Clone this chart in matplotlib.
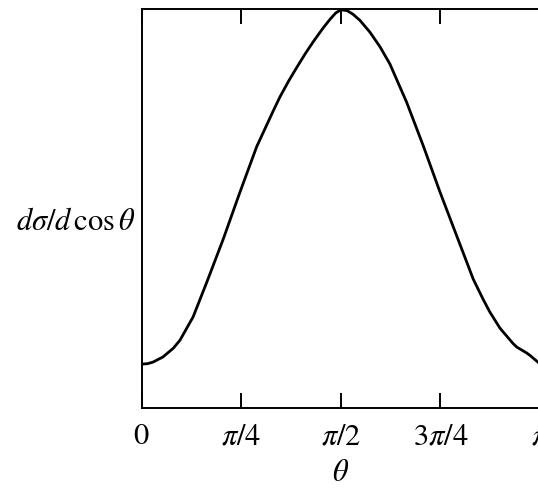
import numpy as np
import matplotlib
matplotlib.use("Agg")
import matplotlib.pyplot as plt

plt.rcParams['mathtext.fontset'] = 'stix'
plt.rcParams['font.family'] = ['Liberation Serif', 'DejaVu Serif']

# Curve (theta in radians, normalised dσ/dcosθ)
theta = [0.000, 0.045, 0.089, 0.168, 0.250, 0.302, 0.405, 0.513, 0.644,
         0.775, 0.907, 1.038, 1.091, 1.160, 1.222, 1.290, 1.351, 1.430,
         1.485, 1.530, 1.571, 1.620, 1.666, 1.720, 1.800, 1.880, 1.958,
         2.090, 2.221, 2.353, 2.484, 2.615, 2.692, 2.747, 2.826, 2.928,
         2.957, 3.036, 3.062, 3.125, 3.142]
dsigma = [0.110, 0.111, 0.115, 0.128, 0.150, 0.170, 0.228, 0.315, 0.424,
          0.541, 0.655, 0.745, 0.780, 0.820, 0.853, 0.888, 0.917, 0.952,
          0.974, 0.990, 0.998, 0.996, 0.987, 0.972, 0.942, 0.905, 0.862,
          0.766, 0.657, 0.541, 0.432, 0.323, 0.273, 0.240, 0.200, 0.162,
          0.153, 0.138, 0.132, 0.115, 0.110]

tick_pos = [0, np.pi / 4, np.pi / 2, 3 * np.pi / 4, np.pi]
tick_labels = [r'$0$', r'$\pi/4$', r'$\pi/2$', r'$3\pi/4$', r'$\pi$']

W, H = 538, 489
fig = plt.figure(figsize=(W / 100, H / 100), dpi=100)
ax = fig.add_axes([141.7 / W, 80 / H, (540 - 141.7) / W, (409 - 10) / H])

ax.plot(theta, dsigma, color='black', lw=2.0, solid_capstyle='round',
        solid_joinstyle='round')
ax.set_xlim(0, np.pi)
ax.set_ylim(0, 1.0)

ax.set_xticks(tick_pos)
ax.set_xticklabels(tick_labels, fontsize=22)
ax.set_yticks([])
ax.tick_params(axis='x', direction='in', top=True, bottom=True,
               length=11, width=1.4, pad=25.5)
for t in ax.xaxis.get_major_ticks():
    t.label1.set_verticalalignment('baseline')
for s in ax.spines.values():
    s.set_linewidth(1.4)

ax.set_xlabel(r'$\theta$', fontsize=22)
ax.xaxis.set_label_coords(0.5, -0.125)
ax.text(-0.015, (409 - 223) / 399, r'$d\sigma/d\,\cos\theta$', fontsize=22,
        ha='right', va='center', transform=ax.transAxes)

fig.savefig('out.png', dpi=100)
